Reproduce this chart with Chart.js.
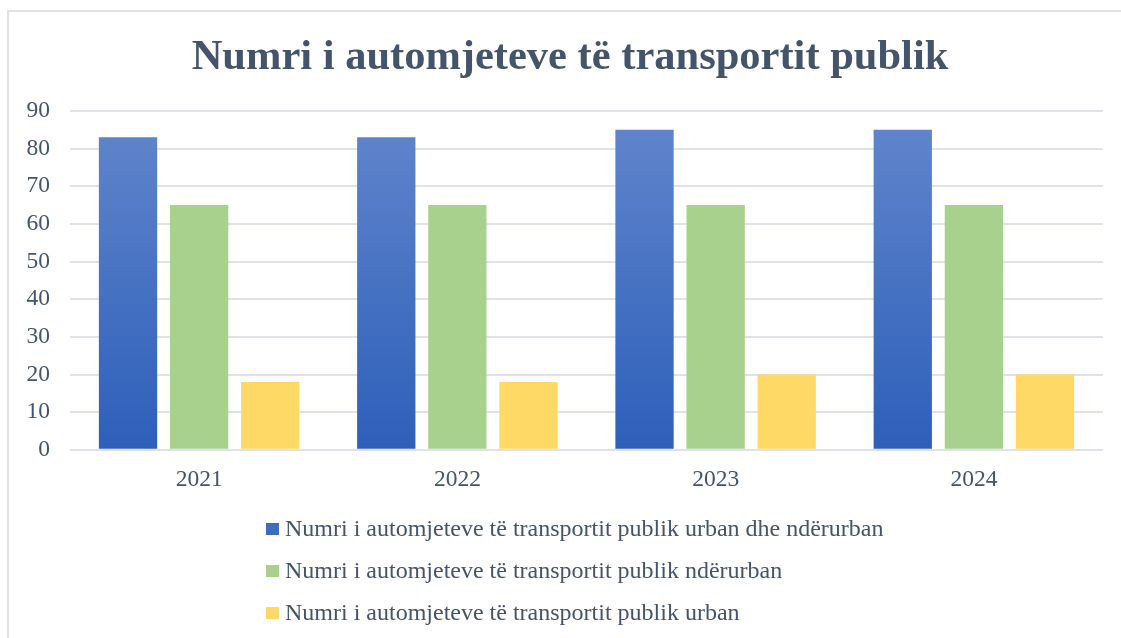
<!DOCTYPE html>
<html>
<head>
<meta charset="utf-8">
<script src="https://cdn.jsdelivr.net/npm/chart.js@4/dist/chart.umd.min.js"></script>
<style>
  body { margin: 0; background: #fff; }
  #wrap { position: relative; width: 1121px; height: 638px; overflow: hidden; }
  #frame { position: absolute; left: 7px; top: 10px; width: 1200px; height: 700px;
           border-top: 2px solid #dfe3e8; border-left: 2px solid #dfe3e8; }
  #myChart { position: absolute; left: 0; top: 0; }
  #legend { position: absolute; left: 266px; top: 512px; font-family: "Liberation Serif", serif;
            font-size: 24px; color: #44546A; }
  #legend div { height: 42px; line-height: 32px; white-space: nowrap; }
  #legend span.box { display: inline-block; width: 13px; height: 12px; margin-right: 6px; vertical-align: 1px; }
</style>
</head>
<body>
<div id="wrap">
  <div id="frame"></div>
  <canvas id="myChart" width="1121" height="638"></canvas>
  <div id="legend"></div>
</div>
<script>
const years = ['2021', '2022', '2023', '2024'];
const seriesNames = [
    'Numri i automjeteve të transportit publik urban dhe ndërurban',
    'Numri i automjeteve të transportit publik ndërurban',
    'Numri i automjeteve të transportit publik urban'
];
const urbanNderurban = [83, 83, 85, 85];
const nderurban = [65, 65, 65, 65];
const urban = [18, 18, 20, 20];
const yTicks = [0, 10, 20, 30, 40, 50, 60, 70, 80, 90];

const textColor = '#44546A';
const serif = '"Liberation Serif", "Times New Roman", serif';

// blue bars fade from lighter top to darker bottom
function blueGradient(context) {
    const chart = context.chart;
    const area = chart.chartArea;
    if (!area) return '#4472C4';
    const g = chart.ctx.createLinearGradient(0, area.top, 0, area.bottom);
    g.addColorStop(0, '#6286cc');
    g.addColorStop(1, '#2d5fba');
    return g;
}

// title in the original sits a bit right of the page centre
const shiftTitle = {
    id: 'shiftTitle',
    afterLayout(chart) {
        if (chart.titleBlock) chart.titleBlock.left += 27;
    }
};

const chart = new Chart('myChart', {
    type: 'bar',
    data: {
        labels: years,
        datasets: [
            { label: seriesNames[0], data: urbanNderurban, backgroundColor: blueGradient, legendColor: '#3c6cc6' },
            { label: seriesNames[1], data: nderurban, backgroundColor: '#a9d18e', legendColor: '#a9d18e' },
            { label: seriesNames[2], data: urban, backgroundColor: '#ffd966', legendColor: '#ffd966' }
        ]
    },
    options: {
        responsive: false,
        animation: false,
        layout: { padding: { left: 10, right: 18, top: 0, bottom: 128 } },
        datasets: { bar: { categoryPercentage: 0.826, barPercentage: 0.82 } },
        plugins: {
            legend: { display: false },
            tooltip: { enabled: false },
            title: {
                display: true,
                text: 'Numri i automjeteve të transportit publik',
                color: textColor,
                font: { family: serif, size: 42.5, weight: 'bold', lineHeight: 1.2 },
                padding: { top: 33, bottom: 27 }
            }
        },
        scales: {
            x: {
                grid: { display: false, drawTicks: false },
                border: { display: false },
                ticks: { color: textColor, font: { family: serif, size: 23.5 }, padding: 16 }
            },
            y: {
                min: 0,
                max: 90,
                afterBuildTicks: (scale) => { scale.ticks = yTicks.map(v => ({ value: v })); },
                afterFit: (scale) => { scale.width = 60; },
                grid: { color: '#dfe3e8', lineWidth: 2, drawTicks: false },
                border: { display: false },
                ticks: { color: textColor, font: { family: serif, size: 23.5 }, padding: 20 }
            }
        }
    },
    plugins: [shiftTitle]
});

// legend as a plain list, one series per line
const legendEl = document.getElementById('legend');
chart.data.datasets.forEach(ds => {
    const row = document.createElement('div');
    const box = document.createElement('span');
    box.className = 'box';
    box.style.background = ds.legendColor;
    row.appendChild(box);
    row.appendChild(document.createTextNode(ds.label));
    legendEl.appendChild(row);
});
</script>
</body>
</html>
